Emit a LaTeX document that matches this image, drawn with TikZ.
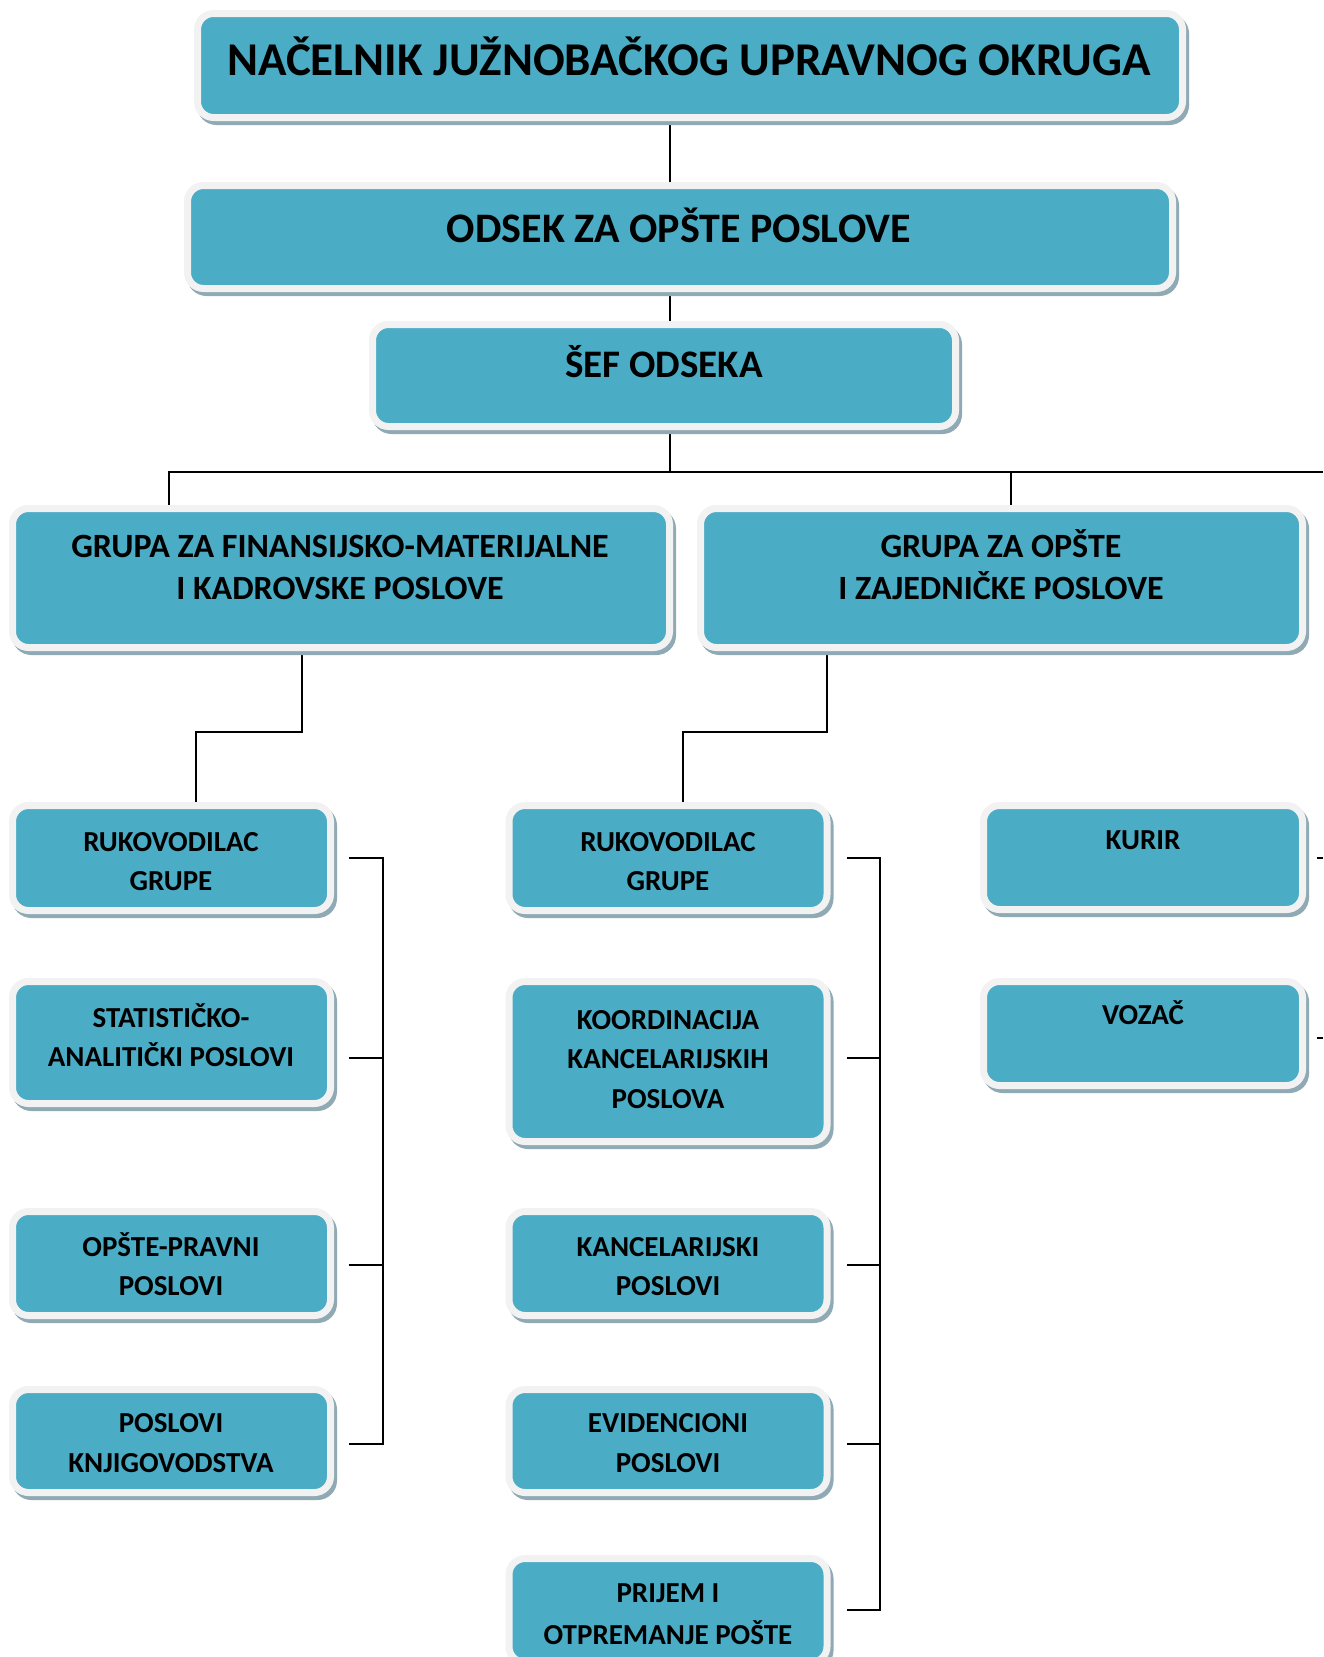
\documentclass[tikz,border=0pt]{standalone}
\usepackage{fontspec}
\setmainfont{Carlito}
\usetikzlibrary{calc}
\definecolor{boxblue}{HTML}{4BACC6}
\definecolor{boxrim}{HTML}{F2F2F2}
\definecolor{shadowc}{HTML}{8FAAB4}
\pgfdeclarelayer{bg}
\pgfsetlayers{bg,main}
\tikzset{
  orgbox/.style={draw=boxrim, line width=7pt, fill=boxblue, rounded corners=16pt, inner sep=0pt,
    preaction={draw=shadowc, fill=shadowc, line width=7pt, transform canvas={xshift=3pt,yshift=-4pt}}},
  conn/.style={line width=2.2pt, black},
  tA/.style={anchor=base, inner sep=0pt, font=\bfseries\fontsize{47}{56}\selectfont},
  tB/.style={anchor=base, inner sep=0pt, font=\bfseries\fontsize{42}{50}\selectfont},
  tC/.style={anchor=base, inner sep=0pt, font=\bfseries\fontsize{39}{46}\selectfont},
  tG/.style={anchor=base, inner sep=0pt, font=\bfseries\fontsize{34}{40}\selectfont},
  tS/.style={anchor=base, inner sep=0pt, font=\bfseries\fontsize{29}{36}\selectfont},
}
\begin{document}
\begin{tikzpicture}[x=1pt,y=-1pt]
\useasboundingbox (0,0) rectangle (1323,1657);
\clip (0,0) rectangle (1323,1657);
% top boxes
\node[orgbox, minimum width=985pt, minimum height=104pt] (n1) at (690,65.5) {};
\node[orgbox, minimum width=985pt, minimum height=103pt] (n2) at (680,237) {};
\node[orgbox, minimum width=583pt, minimum height=102pt] (n3) at (664,375.5) {};
\node[orgbox, minimum width=657pt, minimum height=139pt] (n4) at (341,578) {};
\node[orgbox, minimum width=602pt, minimum height=139pt] (n5) at (1001.5,578) {};
% left column
\node[orgbox, minimum width=318pt, minimum height=105pt] (l1) at (171.5,858) {};
\node[orgbox, minimum width=318pt, minimum height=122pt] (l2) at (171.5,1042.5) {};
\node[orgbox, minimum width=318pt, minimum height=104pt] (l3) at (171.5,1263.5) {};
\node[orgbox, minimum width=318pt, minimum height=103pt] (l4) at (171.5,1441) {};
% middle column
\node[orgbox, minimum width=318pt, minimum height=105pt] (m1) at (668,858) {};
\node[orgbox, minimum width=318pt, minimum height=160pt] (m2) at (668,1061.5) {};
\node[orgbox, minimum width=318pt, minimum height=104pt] (m3) at (668,1263.5) {};
\node[orgbox, minimum width=318pt, minimum height=103pt] (m4) at (668,1441) {};
\node[orgbox, minimum width=318pt, minimum height=104pt] (m5) at (668,1610.5) {};
% right column
\node[orgbox, minimum width=319pt, minimum height=104pt] (r1) at (1143,857.5) {};
\node[orgbox, minimum width=319pt, minimum height=104pt] (r2) at (1143,1033.5) {};
% texts
\node[tA] (t1) at (689,75) {NAČELNIK JUŽNOBAČKOG UPRAVNOG OKRUGA};
\node[tB] (t2) at (679,242) {ODSEK ZA OPŠTE POSLOVE};
\node[tC] (t3) at (664,377) {ŠEF ODSEKA};
\node[tG] (t4a) at (340,557.7) {GRUPA ZA FINANSIJSKO-MATERIJALNE};
\node[tG] (t4b) at (340,599.7) {I KADROVSKE POSLOVE};
\node[tG] (t5a) at (1001,557.7) {GRUPA ZA OPŠTE};
\node[tG] (t5b) at (1001,599.7) {I ZAJEDNIČKE POSLOVE};
\node[tS] (tl1a) at (171,851) {RUKOVODILAC};
\node[tS] (tl1b) at (171,890) {GRUPE};
\node[tS] (tl2a) at (171,1027) {STATISTIČKO-};
\node[tS] (tl2b) at (171,1066) {ANALITIČKI POSLOVI};
\node[tS] (tl3a) at (171,1256) {OPŠTE-PRAVNI};
\node[tS] (tl3b) at (171,1295) {POSLOVI};
\node[tS] (tl4a) at (171,1432) {POSLOVI};
\node[tS] (tl4b) at (171,1472) {KNJIGOVODSTVA};
\node[tS] (tm1a) at (668,851) {RUKOVODILAC};
\node[tS] (tm1b) at (668,890) {GRUPE};
\node[tS] (tm2a) at (668,1029) {KOORDINACIJA};
\node[tS] (tm2b) at (668,1068) {KANCELARIJSKIH};
\node[tS] (tm2c) at (668,1108) {POSLOVA};
\node[tS] (tm3a) at (668,1256) {KANCELARIJSKI};
\node[tS] (tm3b) at (668,1295) {POSLOVI};
\node[tS] (tm4a) at (668,1432) {EVIDENCIONI};
\node[tS] (tm4b) at (668,1472) {POSLOVI};
\node[tS] (tm5a) at (668,1602) {PRIJEM I};
\node[tS] (tm5b) at (668,1644) {OTPREMANJE POŠTE};
\node[tS] (tr1) at (1143,849) {KURIR};
\node[tS] (tr2) at (1143,1024) {VOZAČ};
% connectors
\coordinate (trunk) at (670,0);
\coordinate (busL) at (169,472);
\coordinate (busR) at (1323,472);
\coordinate (d5) at (1011,472);
\coordinate (e4) at (302,732);
\coordinate (f4) at (196,0);
\coordinate (e5) at (827,732);
\coordinate (f5) at (683,0);
\coordinate (lbar) at (383,0);
\coordinate (mbar) at (880,0);
\coordinate (edgeR) at (1323,0);
\begin{pgfonlayer}{bg}
\draw[conn] (n1.south -| trunk) -- (n2.north -| trunk);
\draw[conn] (n2.south -| trunk) -- (n3.north -| trunk);
\draw[conn] (n3.south -| trunk) -- (trunk |- busR);
\draw[conn] (n4.north -| busL) -- (busL) -- (busR);
\draw[conn] (n5.north -| d5) -- (d5);
\draw[conn] (n4.south -| e4) -- (e4) -| (l1.north -| f4);
\draw[conn] (n5.south -| e5) -- (e5) -| (m1.north -| f5);
% left bracket
\draw[conn] ($(l1.east)+(14.5,0)$) -| (lbar |- {$(l4.east)+(0,3)$}) -- ($(l4.east)+(14.5,3)$);
\draw[conn] ($(l2.east)+(14.5,15.5)$) -- (lbar |- {$(l2.east)+(0,15.5)$});
\draw[conn] ($(l3.east)+(14.5,1.5)$) -- (lbar |- {$(l3.east)+(0,1.5)$});
% middle bracket
\draw[conn] ($(m1.east)+(16.5,0)$) -| (mbar |- {$(m5.east)+(0,-0.5)$}) -- ($(m5.east)+(16.5,-0.5)$);
\draw[conn] ($(m2.east)+(16.5,-3.5)$) -- (mbar |- {$(m2.east)+(0,-3.5)$});
\draw[conn] ($(m3.east)+(16.5,1.5)$) -- (mbar |- {$(m3.east)+(0,1.5)$});
\draw[conn] ($(m4.east)+(16.5,3)$) -- (mbar |- {$(m4.east)+(0,3)$});
% right stubs
\draw[conn] ($(r1.east)+(10.5,0.5)$) -- (edgeR |- {$(r1.east)+(0,0.5)$});
\draw[conn] ($(r2.east)+(10.5,4.5)$) -- (edgeR |- {$(r2.east)+(0,4.5)$});
\end{pgfonlayer}
\end{tikzpicture}
\end{document}
